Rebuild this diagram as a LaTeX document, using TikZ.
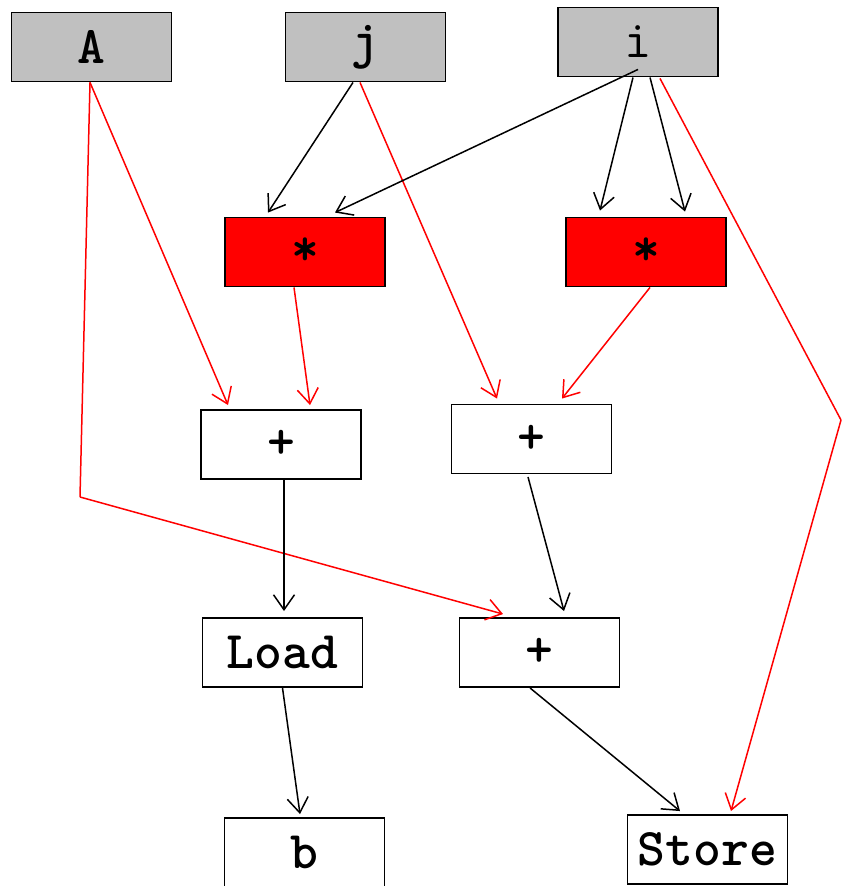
\documentclass[tikz,border=0pt]{standalone}
\usepackage{fontspec}
\usetikzlibrary{arrows.meta,calc}
\definecolor{boxgray}{HTML}{C0C0C0}
\definecolor{hotred}{HTML}{FF0000}
\tikzset{
  opbox/.style={draw=black, line width=1.9pt, minimum width=160pt, minimum height=69pt, inner sep=0pt,
    font=\fontsize{53}{58}\selectfont\ttfamily\bfseries},
  inbox/.style={opbox, fill=boxgray},
  mulbox/.style={opbox, fill=hotred},
  blk/.style={draw=black, line width=1.5pt, -{Straight Barb[length=15pt,width=21pt,line width=1.5pt]}},
  rd/.style={draw=hotred, line width=1.5pt, -{Straight Barb[length=15pt,width=21pt,line width=1.5pt]}},
}
\begin{document}
\begin{tikzpicture}[x=1pt,y=-1pt]
\useasboundingbox (0,0) rectangle (842,886);
\node[inbox] (A) at (91.5,47) {A};
\node[inbox] (j) at (365.5,47) {j};
\node[inbox, font=\fontsize{53}{58}\selectfont\ttfamily] (i) at (638,42) {i};
\node[mulbox] (lmul) at (305,252) {*};
\node[mulbox] (rmul) at (646,252) {*};
\node[opbox] (lplus) at (281,444.5) {+};
\node[opbox] (mplus) at (531.5,439) {+};
\node[opbox] (load) at (282.5,652.5) {Load};
\node[opbox] (bplus) at (539.5,652.5) {+};
\node[opbox] (b) at (304.5,852.5) {b};
\node[opbox] (store) at (707.5,849.5) {Store};
\coordinate (abend) at (80,497);
\coordinate (isbend) at (841,420);
% red edges
\draw[rd] ($(A.south)+(-1.5,0)$) -- ($(lplus.north)+(-53,-4)$);
\draw[rd, -] ($(A.south)+(-1.5,0)$) -- (abend);
\draw[rd] (abend) -- ($(bplus.north)+(-36.5,-3)$);
\draw[rd] ($(j.south)+(-5.5,0)$) -- ($(mplus.north)+(-34.5,-5)$);
\draw[rd, -] ($(i.south)+(22,1)$) -- (isbend);
\draw[rd] (isbend) -- ($(store.north)+(23.5,-3)$);
\draw[rd] ($(lmul.south)+(-11,0)$) -- ($(lplus.north)+(29,-4)$);
\draw[rd] ($(rmul.south)+(4,0)$) -- ($(mplus.north)+(30.5,-5)$);
% black edges
\draw[blk] ($(j.south)+(-12.5,0)$) -- ($(lmul.north)+(-37,-4)$);
\draw[blk] ($(i.south)+(0,-8)$) -- ($(lmul.north)+(30,-4)$);
\draw[blk] ($(i.south)+(-5,0)$) -- ($(rmul.north)+(-46,-6)$);
\draw[blk] ($(i.south)+(12,0)$) -- ($(rmul.north)+(39,-5)$);
\draw[blk] ($(lplus.south)+(3,0)$) -- ($(load.north)+(1.5,-6)$);
\draw[blk] ($(mplus.south)+(-3.5,2.5)$) -- ($(bplus.north)+(24.5,-6)$);
\draw[blk] (load.south) -- ($(b.north)+(-4.5,-3)$);
\draw[blk] ($(bplus.south)+(-9.5,0)$) -- ($(store.north)+(-27.5,-3)$);
\end{tikzpicture}
\end{document}
